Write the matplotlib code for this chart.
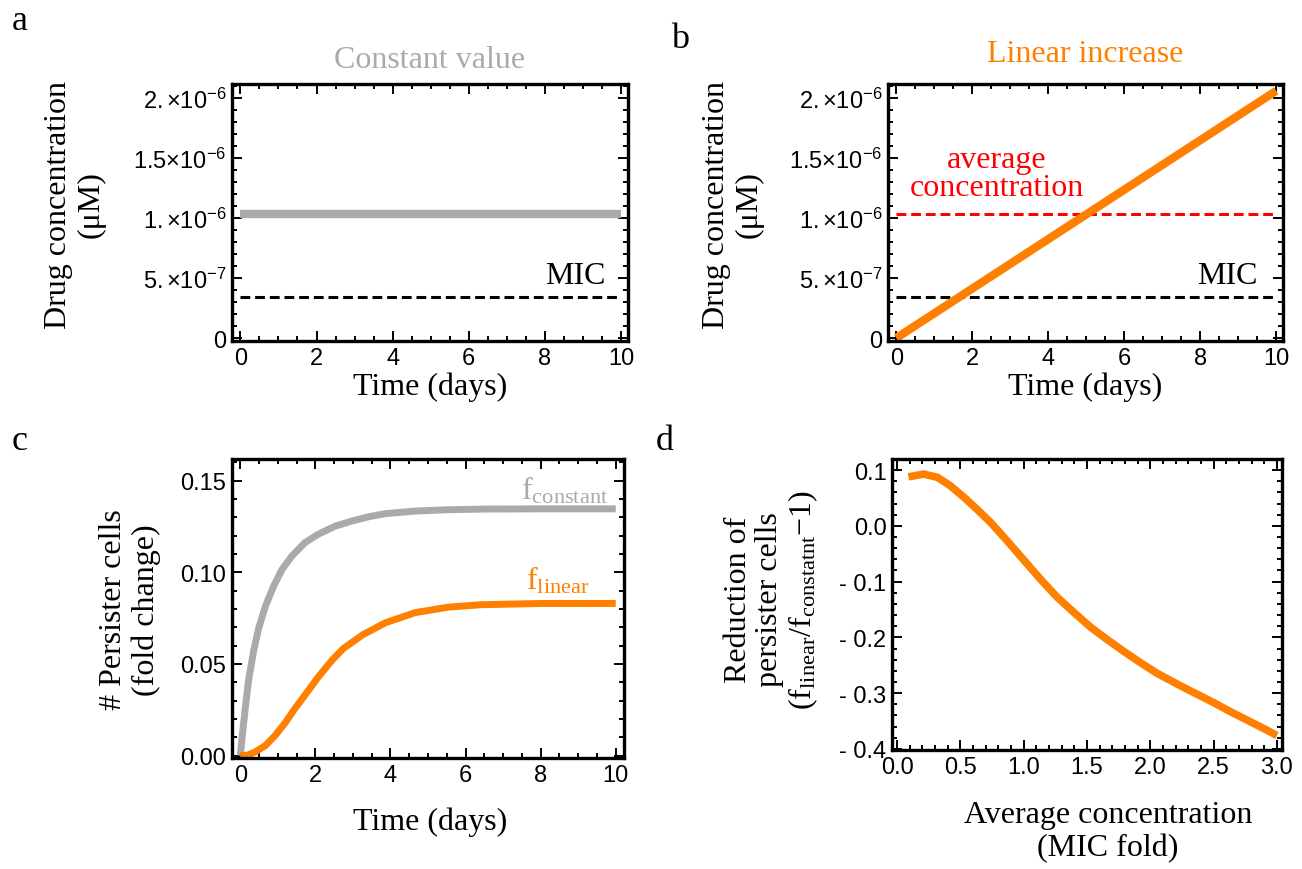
import matplotlib
matplotlib.use('Agg')
import matplotlib.pyplot as plt
from matplotlib.ticker import AutoMinorLocator

plt.rcParams['font.family'] = ['Liberation Serif', 'DejaVu Serif']
plt.rcParams['mathtext.fontset'] = 'custom'
plt.rcParams['mathtext.rm'] = 'Liberation Serif'
plt.rcParams['mathtext.it'] = 'Liberation Serif:italic'
plt.rcParams['mathtext.sf'] = 'Liberation Sans'

GRAY = '#aaaaaa'
ORANGE = '#ff8000'

# panels a/b: drug concentration over time
days = [0, 10]
const_conc = [1.03e-6, 1.03e-6]
linear_conc = [0.0, 2.06e-6]
avg_conc = [1.03e-6, 1.03e-6]
mic_conc = [3.43e-7, 3.43e-7]
conc_ticks = [0, 5e-7, 1e-6, 1.5e-6, 2e-6]
conc_labels = ['0', r'$\mathsf{5.{\times}10^{-7}}$', r'$\mathsf{1.{\times}10^{-6}}$',
               r'$\mathsf{1.5{\times}10^{-6}}$', r'$\mathsf{2.{\times}10^{-6}}$']
day_ticks = [0, 2, 4, 6, 8, 10]

# panel c: persister cells
t_const = [0, 0.06, 0.14, 0.22, 0.36, 0.49, 0.67, 0.89, 1.11, 1.38, 1.73, 2.09,
           2.53, 2.98, 3.42, 3.87, 4.66, 5.5, 6.5, 8, 10]
f_const = [0, 0.012, 0.027, 0.041, 0.0575, 0.0695, 0.0815, 0.0925, 0.1015, 0.109,
           0.1163, 0.1209, 0.1252, 0.128, 0.1303, 0.132, 0.1334, 0.1341, 0.1345,
           0.1346, 0.1346]
t_lin = [0, 0.2, 0.4, 0.67, 0.93, 1.2, 1.44, 1.73, 2.09, 2.45, 2.75, 3.27, 3.87,
         4.66, 5.54, 6.4, 8, 10]
f_lin = [0, 0.0003, 0.002, 0.0055, 0.011, 0.018, 0.0252, 0.0332, 0.0432, 0.0522,
         0.0585, 0.066, 0.0725, 0.078, 0.081, 0.0823, 0.083, 0.083]
frac_ticks = [0, 0.05, 0.10, 0.15]
frac_labels = ['0.00', '0.05', '0.10', '0.15']

# panel d: reduction vs average concentration
mic_fold = [0.09, 0.21, 0.32, 0.42, 0.53, 0.63, 0.74, 0.87, 1.0, 1.13, 1.26, 1.4,
            1.53, 1.66, 1.79, 1.92, 2.05, 2.24, 2.37, 2.5, 2.63, 2.77, 2.9, 3.0]
reduction = [0.088, 0.093, 0.087, 0.072, 0.051, 0.030, 0.006, -0.027, -0.061,
             -0.095, -0.127, -0.156, -0.182, -0.204, -0.225, -0.245, -0.264,
             -0.287, -0.302, -0.317, -0.333, -0.349, -0.364, -0.376]
fold_ticks = [0.0, 0.5, 1.0, 1.5, 2.0, 2.5, 3.0]
fold_labels = ['0.0', '0.5', '1.0', '1.5', '2.0', '2.5', '3.0']
red_ticks = [-0.4, -0.3, -0.2, -0.1, 0.0, 0.1]
red_labels = ['- 0.4', '- 0.3', '- 0.2', '- 0.1', '0.0', '0.1']

W, H = 1302, 870
fig = plt.figure(figsize=(W / 100, H / 100), dpi=100)


def box(l, r, t, b):
    return fig.add_axes([l / W, 1 - b / H, (r - l) / W, (b - t) / H])


def style(ax, nx, ny):
    for s in ax.spines.values():
        s.set_linewidth(2.4)
    ax.xaxis.set_minor_locator(AutoMinorLocator(nx))
    ax.yaxis.set_minor_locator(AutoMinorLocator(ny))
    ax.tick_params(which='both', direction='in', top=True, right=True, width=1.4,
                   labelsize=17, labelfontfamily='Liberation Sans', pad=4)
    ax.tick_params(which='major', length=7)
    ax.tick_params(which='minor', length=3.5)


def ftext(x, y, s, **kw):
    fig.text(x / W, 1 - y / H, s, **kw)


dash = (0, (3.2, 1.6))
LS = 23

# a
ax = box(232, 628, 85, 342)
ax.plot(days, const_conc, color=GRAY, lw=6, solid_capstyle='butt')
ax.plot(days, mic_conc, color='black', lw=2.2, ls=dash)
ax.set_xlim(-0.22, 10.18)
ax.set_ylim(-0.025e-6, 2.117e-6)
ax.set_xticks(day_ticks)
ax.set_yticks(conc_ticks, conc_labels)
style(ax, 4, 5)
ax.text(9.6, 5.2e-7, 'MIC', fontsize=LS, ha='right', va='center')
ftext(430, 60, 'Constant value', fontsize=LS, color=GRAY, ha='center', va='center')
ftext(75, 205, 'Drug concentration\n(μM)', fontsize=LS, rotation=90, ha='center',
      va='center', linespacing=1.15)
ftext(430, 387, 'Time (days)', fontsize=LS, ha='center', va='center')
ftext(20, 22, 'a', fontsize=26, ha='center', va='center')

# b
ax = box(888, 1283, 85, 342)
ax.plot(days, avg_conc, color='red', lw=2.2, ls=dash)
ax.plot(days, mic_conc, color='black', lw=2.2, ls=dash)
ax.plot(days, linear_conc, color=ORANGE, lw=6, solid_capstyle='butt')
ax.set_xlim(-0.22, 10.18)
ax.set_ylim(-0.025e-6, 2.117e-6)
ax.set_xticks(day_ticks)
ax.set_yticks(conc_ticks, conc_labels)
style(ax, 4, 5)
ax.text(9.5, 5.2e-7, 'MIC', fontsize=LS, ha='right', va='center')
ax.text(2.65, 1.37e-6, 'average\nconcentration', fontsize=LS, color='red',
        ha='center', va='center', linespacing=0.95)
ftext(1085, 55, 'Linear increase', fontsize=LS, color=ORANGE, ha='center', va='center')
ftext(733, 205, 'Drug concentration\n(μM)', fontsize=LS, rotation=90, ha='center',
      va='center', linespacing=1.15)
ftext(1085, 387, 'Time (days)', fontsize=LS, ha='center', va='center')
ftext(680, 40, 'b', fontsize=26, ha='center', va='center')

# c
ax = box(232, 624, 460, 759)
ax.plot(t_const, f_const, color=GRAY, lw=5, solid_capstyle='butt')
ax.plot(t_lin, f_lin, color=ORANGE, lw=5, solid_capstyle='butt')
ax.set_xlim(-0.22, 10.22)
ax.set_ylim(-0.0013, 0.1618)
ax.set_xticks(day_ticks)
ax.set_yticks(frac_ticks, frac_labels)
style(ax, 4, 5)
ax.text(9.8, 0.145, r'$\mathrm{f}_{\mathrm{constant}}$', fontsize=LS, color=GRAY,
        ha='right', va='center')
ax.text(9.3, 0.096, r'$\mathrm{f}_{\mathrm{linear}}$', fontsize=LS, color=ORANGE,
        ha='right', va='center')
ftext(130, 610, '# Persister cells\n(fold change)', fontsize=LS, rotation=90,
      ha='center', va='center', linespacing=1.15)
ftext(430, 822, 'Time (days)', fontsize=LS, ha='center', va='center')
ftext(20, 442, 'c', fontsize=26, ha='center', va='center')

# d
ax = box(892, 1282, 460, 751)
ax.plot(mic_fold, reduction, color=ORANGE, lw=5.5, solid_capstyle='butt')
ax.set_xlim(-0.04, 3.04)
ax.set_ylim(-0.402, 0.12)
ax.set_xticks(fold_ticks, fold_labels)
ax.set_yticks(red_ticks, red_labels)
style(ax, 5, 5)
ftext(772, 600, 'Reduction of\npersister cells\n'
      r'$(\mathrm{f}_{\mathrm{linear}}/\mathrm{f}_{\mathrm{constatnt}}\mathrm{-1})$',
      fontsize=LS, rotation=90, ha='center', va='center', linespacing=1.1)
ftext(1108, 832, 'Average concentration\n(MIC fold)', fontsize=LS, ha='center',
      va='center', linespacing=1.15)
ftext(665, 442, 'd', fontsize=26, ha='center', va='center')

fig.savefig('out.png', dpi=100)
